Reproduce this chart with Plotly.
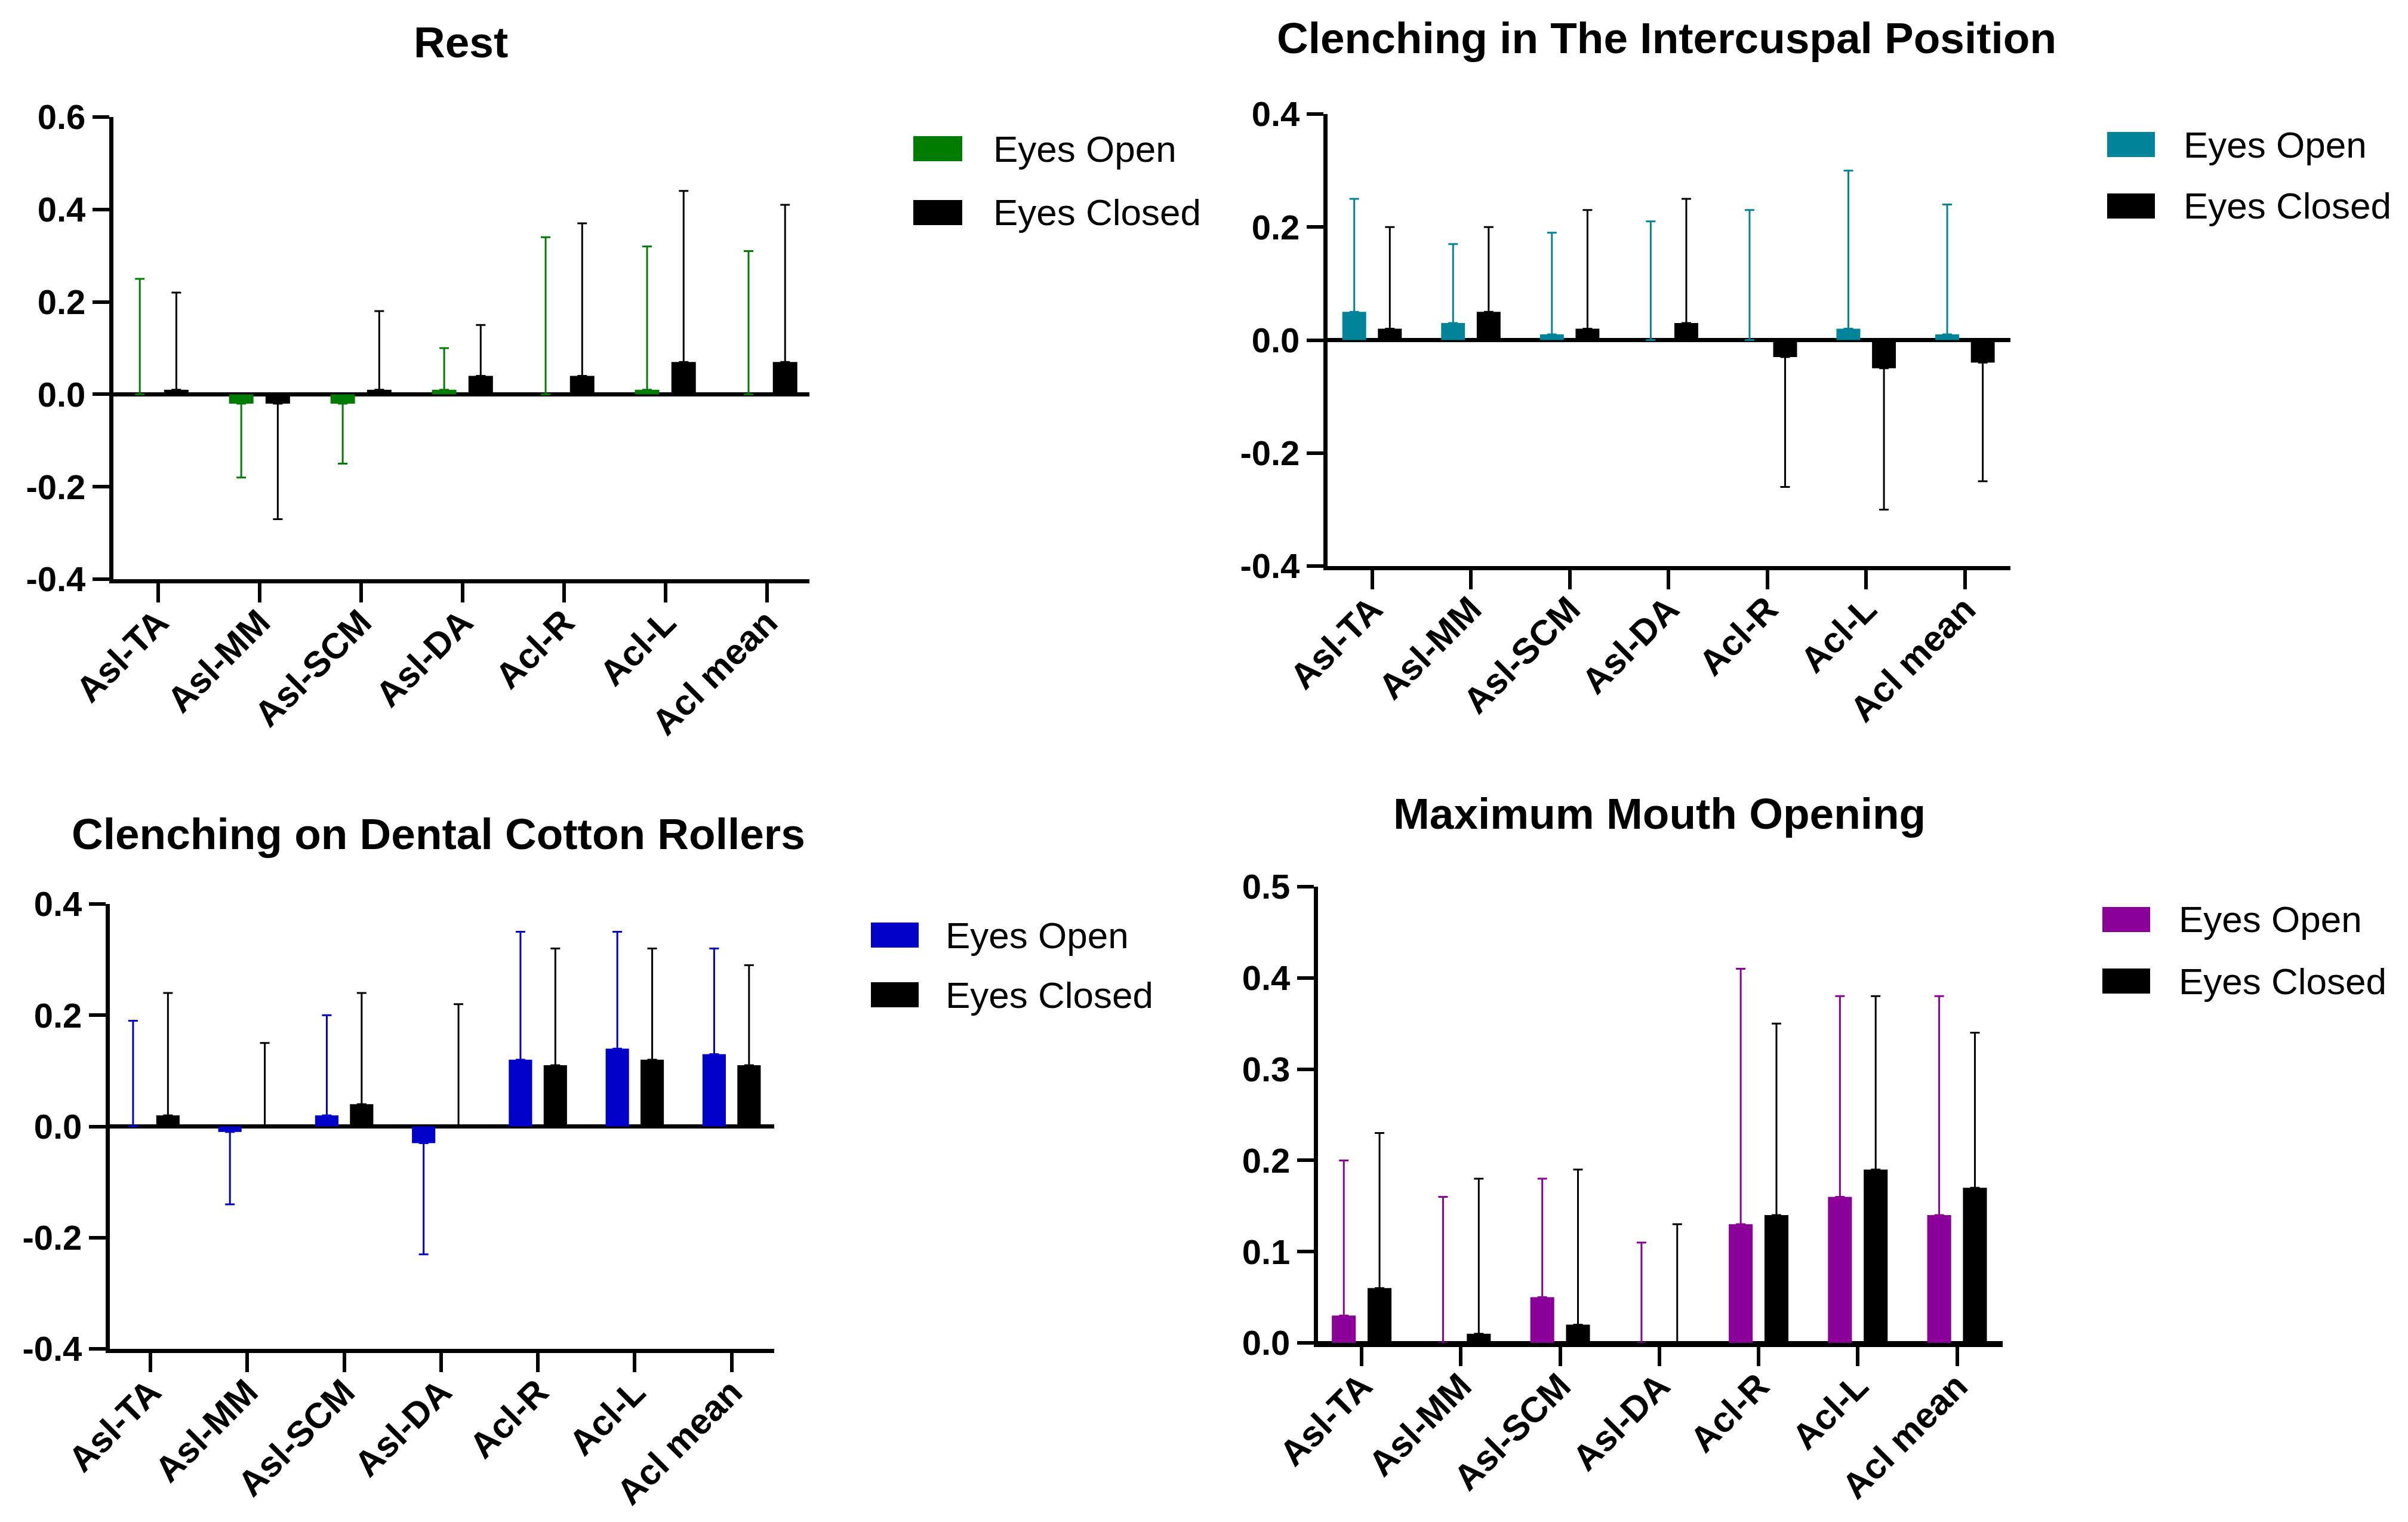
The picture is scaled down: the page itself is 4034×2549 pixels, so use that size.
import plotly.graph_objects as go

W, H = 4034, 2549

categories = ["Asl-TA", "Asl-MM", "Asl-SCM", "Asl-DA", "Acl-R", "Acl-L", "Acl mean"]
series_names = ["Eyes Open", "Eyes Closed"]

titles = [
    "Rest",
    "Clenching in The Intercuspal Position",
    "Clenching on Dental Cotton Rollers",
    "Maximum Mouth Opening",
]

# means and SD (error bar drawn away from zero)
rest_open = [0.00, -0.02, -0.02, 0.01, 0.00, 0.01, 0.00]
rest_open_sd = [0.25, 0.16, 0.13, 0.09, 0.34, 0.31, 0.31]
rest_closed = [0.01, -0.02, 0.01, 0.04, 0.04, 0.07, 0.07]
rest_closed_sd = [0.21, 0.25, 0.17, 0.11, 0.33, 0.37, 0.34]

icp_open = [0.05, 0.03, 0.01, 0.00, 0.00, 0.02, 0.01]
icp_open_sd = [0.20, 0.14, 0.18, 0.21, 0.23, 0.28, 0.23]
icp_closed = [0.02, 0.05, 0.02, 0.03, -0.03, -0.05, -0.04]
icp_closed_sd = [0.18, 0.15, 0.21, 0.22, 0.23, 0.25, 0.21]

dcr_open = [0.00, -0.01, 0.02, -0.03, 0.12, 0.14, 0.13]
dcr_open_sd = [0.19, 0.13, 0.18, 0.20, 0.23, 0.21, 0.19]
dcr_closed = [0.02, 0.00, 0.04, 0.00, 0.11, 0.12, 0.11]
dcr_closed_sd = [0.22, 0.15, 0.20, 0.22, 0.21, 0.20, 0.18]

mmo_open = [0.03, 0.00, 0.05, 0.00, 0.13, 0.16, 0.14]
mmo_open_sd = [0.17, 0.16, 0.13, 0.11, 0.28, 0.22, 0.24]
mmo_closed = [0.06, 0.01, 0.02, 0.00, 0.14, 0.19, 0.17]
mmo_closed_sd = [0.17, 0.17, 0.17, 0.13, 0.21, 0.19, 0.17]

ytick_vals = [
    [-0.4, -0.2, 0.0, 0.2, 0.4, 0.6],
    [-0.4, -0.2, 0.0, 0.2, 0.4],
    [-0.4, -0.2, 0.0, 0.2, 0.4],
    [0.0, 0.1, 0.2, 0.3, 0.4, 0.5],
]
ytick_text = [
    ["-0.4", "-0.2", "0.0", "0.2", "0.4", "0.6"],
    ["-0.4", "-0.2", "0.0", "0.2", "0.4"],
    ["-0.4", "-0.2", "0.0", "0.2", "0.4"],
    ["0.0", "0.1", "0.2", "0.3", "0.4", "0.5"],
]

open_colors = ["#007D00", "#00849A", "#0000C8", "#8A0098"]
closed_color = "#000000"

panels = [
    (rest_open, rest_open_sd, rest_closed, rest_closed_sd),
    (icp_open, icp_open_sd, icp_closed, icp_closed_sd),
    (dcr_open, dcr_open_sd, dcr_closed, dcr_closed_sd),
    (mmo_open, mmo_open_sd, mmo_closed, mmo_closed_sd),
]

# geometry in pixels: axes box, title centre, legend swatch / text
boxes = [
    dict(x0=190, x1=1356, y0=196, y1=970, xr=[-0.44, 6.42], tx=772, ty=70,
         sx0=1530, sx1=1612, cy=[249, 356], lx=1662),
    dict(x0=2224, x1=3368, y0=191, y1=948, xr=[-0.45, 6.46], tx=2792, ty=64,
         sx0=3530, sx1=3610, cy=[242, 345], lx=3656),
    dict(x0=184, x1=1297, y0=1514, y1=2259, xr=[-0.42, 6.44], tx=734, ty=1396,
         sx0=1459, sx1=1539, cy=[1566, 1666], lx=1582),
    dict(x0=2208, x1=3355, y0=1485, y1=2249, xr=[-0.44, 6.46], tx=2780, ty=1362,
         sx0=3522, sx1=3602, cy=[1540, 1643], lx=3648),
]

FONT = "Liberation Sans, Arial, sans-serif"


def err(means, sd):
    up = [s if m >= 0 else 0 for m, s in zip(means, sd)]
    down = [s if m < 0 else 0 for m, s in zip(means, sd)]
    return up, down


fig = go.Figure()
shapes = []
annotations = []

for i, (mo, so, mc, sc) in enumerate(panels):
    n = "" if i == 0 else str(i + 1)
    b = boxes[i]
    for means, sd, color, name in [(mo, so, open_colors[i], series_names[0]),
                                   (mc, sc, closed_color, series_names[1])]:
        up, down = err(means, sd)
        fig.add_trace(go.Bar(
            x=categories, y=means, name=name,
            xaxis="x" + n, yaxis="y" + n,
            marker=dict(color=color, line=dict(width=0)),
            error_y=dict(type="data", symmetric=False, array=up, arrayminus=down,
                         color=color, thickness=3, width=8),
            showlegend=False,
        ))

    fig.update_layout(**{
        "xaxis" + n: dict(
            domain=[b["x0"] / W, b["x1"] / W], anchor="y" + n,
            type="category", range=b["xr"], automargin=False,
            showline=True, linecolor="black", linewidth=7,
            ticks="outside", ticklen=32, tickwidth=6, tickcolor="black",
            tickangle=-45, ticklabelstandoff=-26,
            showgrid=False, zeroline=False,
            tickfont=dict(family=FONT, size=60, color="black", weight="bold"),
        ),
        "yaxis" + n: dict(
            domain=[1 - b["y1"] / H, 1 - b["y0"] / H], anchor="x" + n,
            range=[ytick_vals[i][0], ytick_vals[i][-1]], automargin=False,
            tickvals=ytick_vals[i], ticktext=ytick_text[i],
            showline=True, linecolor="black", linewidth=7,
            ticks="outside", ticklen=28, tickwidth=6, tickcolor="black",
            showgrid=False, zeroline=True, zerolinecolor="black", zerolinewidth=7,
            tickfont=dict(family=FONT, size=58, color="black", weight="bold"),
        ),
    })

    annotations.append(dict(
        text=titles[i], x=b["tx"] / W, y=1 - b["ty"] / H,
        xref="paper", yref="paper", xanchor="center", yanchor="middle",
        showarrow=False,
        font=dict(family=FONT, size=73, color="black", weight="bold"),
    ))

    for k, (label, color) in enumerate([(series_names[0], open_colors[i]),
                                        (series_names[1], closed_color)]):
        cy = b["cy"][k]
        shapes.append(dict(
            type="rect", xref="paper", yref="paper",
            x0=b["sx0"] / W, x1=b["sx1"] / W,
            y0=1 - (cy + 21) / H, y1=1 - (cy - 21) / H,
            fillcolor=color, line=dict(width=0),
        ))
        annotations.append(dict(
            text=label, x=b["lx"] / W, y=1 - cy / H,
            xref="paper", yref="paper", xanchor="left", yanchor="middle",
            showarrow=False,
            font=dict(family=FONT, size=62, color="black"),
        ))

fig.update_layout(
    width=W, height=H, autosize=False,
    margin=dict(l=0, r=0, t=0, b=0),
    paper_bgcolor="white", plot_bgcolor="white",
    barmode="group", bargap=0.28, bargroupgap=0.33,
    showlegend=False,
    shapes=shapes, annotations=annotations,
    font=dict(family=FONT, color="black"),
)

# drop the default page margin so the figure sits at the window's corner
fig.write_html("out.html", config={"displayModeBar": False},
               post_script="document.body.style.margin = '0';")
